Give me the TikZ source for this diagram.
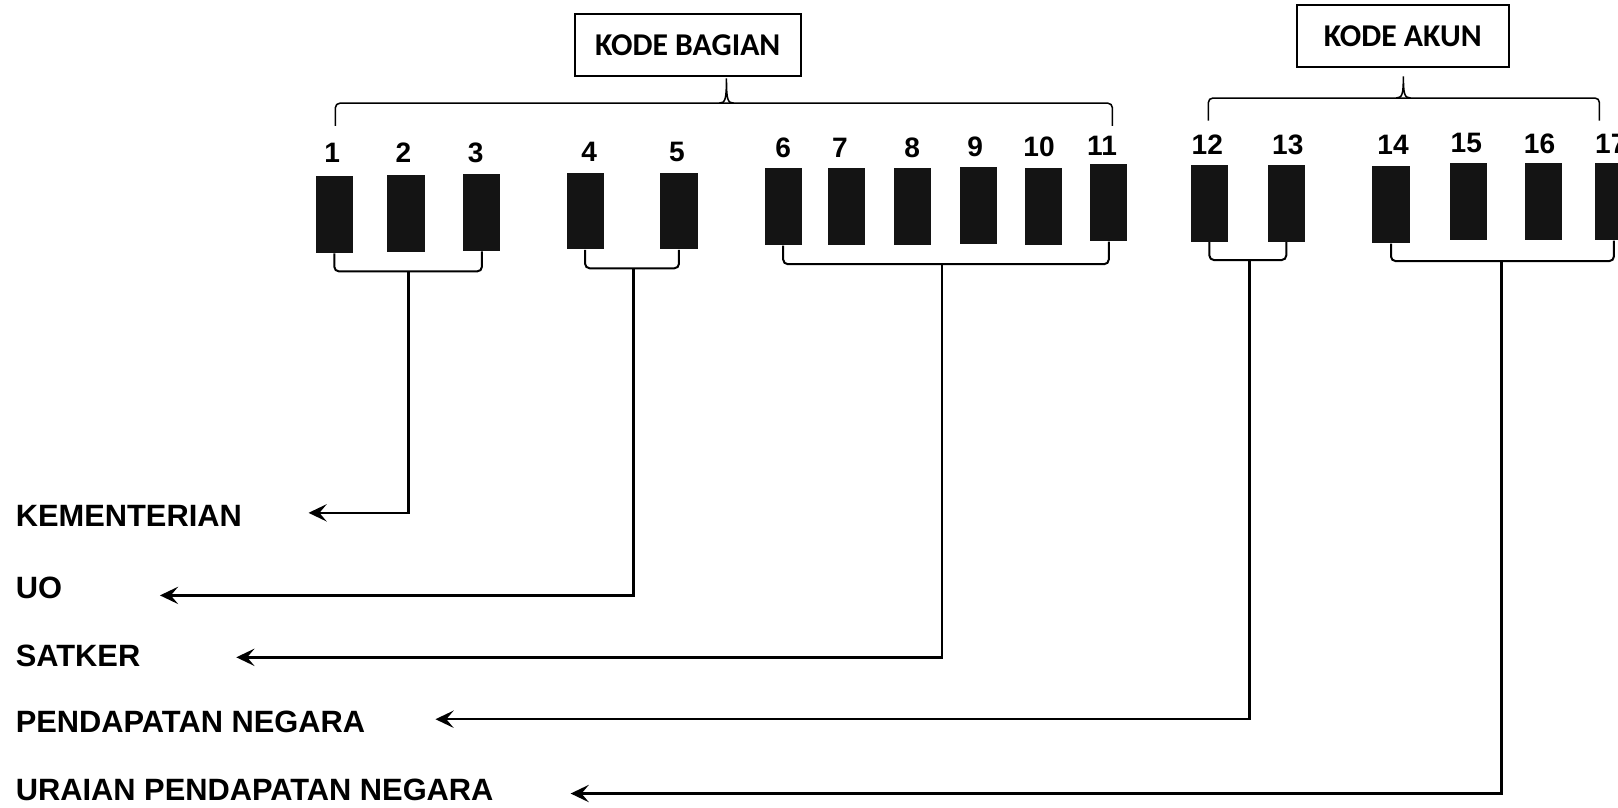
\documentclass[tikz,border=0pt]{standalone}
\usepackage{fontspec}
\setmainfont{Liberation Sans}
\newfontfamily\boxfont{Carlito}
\usetikzlibrary{arrows.meta}
\tikzset{
  digitbar/.style={fill=black!92, minimum width=0.72cm, minimum height=1.49cm, inner sep=0pt},
  digitnum/.style={font=\fontsize{15.5}{15.5}\selectfont\bfseries, inner sep=0pt},
  groupbox/.style={draw, line width=1.1pt, inner sep=0pt,
    font=\boxfont\fontsize{17.5}{17.5}\selectfont\bfseries},
  kindlabel/.style={anchor=west, inner sep=0pt, font=\fontsize{17}{17}\selectfont\bfseries},
  bracelink/.style={line width=0.85pt},
  grouplink/.style={line width=1.1pt, rounded corners=2.5pt},
  kindarrow/.style={-{Stealth[length=10pt, width=9.5pt, inset=4pt]}, line width=1.4pt},
}

\begin{document}
\begin{tikzpicture}[x=0.02cm, y=-0.02cm]
  \clip (0,0) rectangle (1568,783);

  \node[groupbox, minimum width=4.38cm, minimum height=1.2cm] (bagian) at (666.5,43.5) {KODE BAGIAN};
  \node[groupbox, minimum width=4.1cm, minimum height=1.2cm] (akun) at (1359.5,35) {KODE AKUN};

  % code digits
  \foreach \n/\x/\y in {1/324/208, 2/393.5/207, 3/467/206, 4/567/204.5, 5/658/204.5,
      6/759/200.5, 7/820/200.5, 8/884/200.5, 9/948/199.5, 10/1011/200.5, 11/1074.5/196.5,
      12/1172/197, 13/1246.5/197, 14/1348/198.5, 15/1423/195.5, 16/1496/195.5, 17/1564/195.5}
    \node[digitbar] (b\n) at (\x,\y) {};
  \foreach \n/\x/\y in {1/322/148, 2/391/148, 3/461/148, 4/571/147, 5/656/147,
      6/759/143, 7/814/143, 8/884/143, 9/945/142, 10/1007/142, 11/1068/141,
      12/1170/140, 13/1248/140, 14/1350/140, 15/1421/139, 16/1492/139, 17/1561/139}
    \node[digitnum] (n\n) at (\x,\y) {\n};

  % braces under the boxes
  \draw[bracelink, rounded corners=2.5pt] (325,122) -- (325,100) -- (1078,100) -- (1078,122);
  \draw[bracelink] (697,100) .. controls (703,100) and (704,96) .. (704,76)
    .. controls (704,96) and (705,100) .. (711,100);
  \draw[bracelink, rounded corners=2.5pt] (1171,117) -- (1171,95) -- (1550,95) -- (1550,117);
  \draw[bracelink] (1353,95) .. controls (1359,95) and (1360,91) .. (1360,74)
    .. controls (1360,91) and (1361,95) .. (1367,95);

  \node[kindlabel] (kem) at (15,500) {KEMENTERIAN};
  \node[kindlabel] (uo) at (15,570) {UO};
  \node[kindlabel] (satker) at (15,636) {SATKER};
  \node[kindlabel] (pend) at (15,700) {PENDAPATAN NEGARA};
  \node[kindlabel] (uraian) at (15,765) {URAIAN PENDAPATAN NEGARA};

  \coordinate (t1) at (299,497);
  \coordinate (t2) at (155,577);
  \coordinate (t3) at (229,637);
  \coordinate (t4) at (422,697);
  \coordinate (t5) at (553,769);

  \coordinate (g1) at (396,263);
  \coordinate (g2) at (614,260);
  \coordinate (g3) at (913,256);
  \coordinate (g4) at (1211,252);
  \coordinate (g5) at (1455,253);

  \draw[grouplink] (b1.south) |- (g1) -| (b3.south);
  \draw[grouplink] (b4.south) |- (g2) -| (b5.south);
  \draw[grouplink] (b6.south) |- (g3) -| (b11.south);
  \draw[grouplink] (b12.south) |- (g4) -| (b13.south);
  \draw[grouplink] (b14.south) |- (g5) -| (b17.south);

  \draw[kindarrow] (g1) |- (t1);
  \draw[kindarrow] (g2) |- (t2);
  \draw[kindarrow] (g3) |- (t3);
  \draw[kindarrow] (g4) |- (t4);
  \draw[kindarrow] (g5) |- (t5);
\end{tikzpicture}
\end{document}
